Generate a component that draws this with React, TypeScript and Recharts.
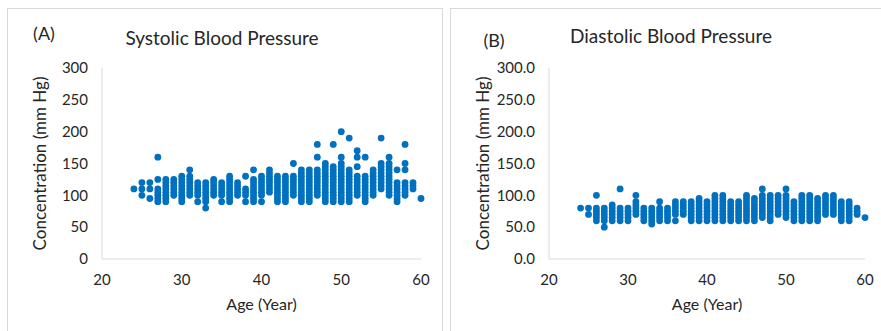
import { ScatterChart, Scatter, XAxis, YAxis } from "recharts";

const ages = [
  24, 25, 26, 27, 28, 29, 30, 31, 32, 33, 34, 35, 36, 37, 38, 39, 40, 41, 42,
  43, 44, 45, 46, 47, 48, 49, 50, 51, 52, 53, 54, 55, 56, 57, 58, 59, 60,
];

// systolic readings per age (mm Hg)
const systolic: number[][] = [
  [110],
  [100, 110, 120],
  [95, 110, 120],
  [90, 95, 100, 105, 110, 125, 160],
  [90, 95, 100, 105, 110, 115, 120, 125],
  [100, 105, 110, 115, 120, 125],
  [90, 95, 100, 105, 110, 115, 120, 125, 130],
  [100, 105, 110, 115, 120, 125, 130, 140],
  [90, 100, 105, 110, 115, 120],
  [80, 90, 95, 100, 105, 110, 115, 120],
  [100, 105, 110, 115, 120, 125],
  [90, 100, 105, 110, 115, 120],
  [90, 95, 100, 105, 110, 115, 120, 125, 130],
  [100, 105, 110, 115, 120],
  [90, 100, 105, 110, 130],
  [90, 95, 100, 105, 110, 115, 120, 125, 140],
  [90, 100, 105, 110, 115, 120, 125, 130],
  [105, 110, 115, 120, 125, 130, 135, 140],
  [90, 95, 100, 105, 110, 115, 120, 125, 130],
  [90, 95, 100, 105, 110, 115, 120, 125, 130],
  [100, 105, 110, 115, 120, 125, 130, 150],
  [90, 95, 100, 105, 110, 115, 120, 125, 130, 135, 140],
  [90, 95, 100, 105, 110, 115, 120, 125, 130, 135, 140],
  [100, 105, 110, 115, 120, 125, 130, 135, 140, 160, 180],
  [90, 95, 100, 105, 110, 115, 120, 125, 130, 135, 140, 145, 150],
  [90, 95, 100, 105, 110, 115, 120, 125, 130, 135, 140, 145, 180],
  [90, 95, 100, 105, 110, 115, 120, 125, 130, 135, 140, 145, 150, 160, 200],
  [90, 95, 100, 105, 110, 115, 120, 125, 130, 135, 140, 190],
  [100, 105, 110, 115, 120, 125, 130, 145, 160, 170],
  [90, 95, 100, 105, 110, 115, 120, 125, 130, 160],
  [100, 105, 110, 115, 120, 125, 130, 135, 140],
  [110, 115, 120, 125, 130, 135, 140, 145, 150, 190],
  [100, 105, 110, 115, 120, 125, 130, 135, 140, 145, 150, 160],
  [90, 95, 100, 105, 110, 115, 120, 140],
  [100, 105, 110, 115, 120, 140, 150, 180],
  [110, 115, 120],
  [95],
];

// diastolic readings per age (mm Hg)
const diastolic: number[][] = [
  [80],
  [70, 80],
  [60, 65, 70, 75, 80, 100],
  [50, 60, 65, 70, 75, 80],
  [60, 65, 70, 75, 80, 85],
  [60, 65, 70, 75, 80, 110],
  [60, 65, 70, 75, 80],
  [70, 75, 80, 85, 90, 100],
  [60, 65, 70, 75, 80],
  [55, 60, 65, 70, 75, 80],
  [60, 65, 70, 75, 80, 90],
  [60, 65, 70, 75, 80],
  [60, 70, 75, 80, 85, 90],
  [70, 75, 80, 85, 90],
  [60, 65, 70, 75, 80, 85, 90],
  [60, 65, 70, 75, 80, 85, 90, 95],
  [60, 65, 70, 75, 80, 85, 90],
  [60, 65, 70, 75, 80, 85, 90, 95, 100],
  [60, 65, 70, 75, 80, 85, 90, 95, 100],
  [60, 65, 70, 75, 80, 85, 90],
  [60, 65, 70, 75, 80, 85, 90],
  [60, 65, 70, 75, 80, 85, 90, 95, 100],
  [60, 65, 70, 75, 80, 85, 90, 95],
  [65, 70, 75, 80, 85, 90, 95, 100, 110],
  [60, 65, 70, 75, 80, 85, 90, 95, 100],
  [70, 75, 80, 85, 90, 95, 100],
  [65, 70, 75, 80, 85, 90, 95, 100, 110],
  [60, 65, 70, 75, 80, 85, 90],
  [60, 65, 70, 75, 80, 85, 90, 95, 100],
  [60, 65, 70, 75, 80, 85, 90, 95, 100],
  [60, 65, 70, 75, 80, 85, 90, 95],
  [70, 75, 80, 85, 90, 95, 100],
  [70, 75, 80, 85, 90, 95, 100],
  [60, 65, 70, 75, 80, 85, 90],
  [60, 65, 70, 75, 80, 85, 90],
  [70, 75, 80],
  [65],
];

const xTicks = [20, 30, 40, 50, 60];
const yTicks = [0, 50, 100, 150, 200, 250, 300];

const toPoints = (rows: number[][]) =>
  ages.flatMap((age, i) => rows[i].map((bp) => ({ age, bp })));

const font = "Lato, 'Open Sans', sans-serif";
const ink = "#262626";
const axisLine = "#d9d9d9";
const dotColor = "#0070c0";

const Dot = (p: any) => <circle cx={p.cx} cy={p.cy} r={3.4} fill={dotColor} />;

function Panel(props: {
  left: number;
  width: number;
  yAxisWidth: number;
  right: number;
  data: { age: number; bp: number }[];
  fmt: (v: number) => string;
  labelDx: number;
}) {
  const { left, width, yAxisWidth, right, data, fmt, labelDx } = props;
  return (
    <div style={{ position: "absolute", left, top: 0 }}>
      <ScatterChart
        width={width}
        height={331}
        margin={{ top: 68, right, bottom: 0, left: 0 }}
      >
        <XAxis
          type="number"
          dataKey="age"
          domain={[20, 60]}
          ticks={xTicks}
          height={72}
          tickLine={false}
          tickMargin={9}
          stroke={axisLine}
          tick={{ fill: ink, fontSize: 15, fontFamily: font }}
          label={{
            value: "Age (Year)",
            position: "center",
            dy: 9,
            fill: ink,
            fontSize: 16,
            fontFamily: font,
          }}
        />
        <YAxis
          type="number"
          dataKey="bp"
          domain={[0, 300]}
          ticks={yTicks}
          width={yAxisWidth}
          tickLine={false}
          tickMargin={8}
          tickFormatter={fmt}
          stroke={axisLine}
          tick={{ fill: ink, fontSize: 15, fontFamily: font }}
          label={{
            value: "Concentration (mm Hg)",
            angle: -90,
            position: "center",
            dx: labelDx,
            fill: ink,
            fontSize: 17,
            fontFamily: font,
          }}
        />
        <Scatter data={data} shape={Dot} isAnimationActive={false} />
      </ScatterChart>
    </div>
  );
}

const textStyle = (x: number, y: number, size: number): React.CSSProperties => ({
  position: "absolute",
  left: x,
  top: y,
  transform: "translate(-50%, -50%)",
  whiteSpace: "nowrap",
  fontFamily: font,
  fontSize: size,
  color: ink,
});

export default function App() {
  return (
    <div
      style={{
        position: "fixed",
        left: 0,
        top: 0,
        width: 881,
        height: 331,
        background: "#fff",
        overflow: "hidden",
      }}
    >
      <div
        style={{
          position: "absolute",
          left: 7,
          top: 8,
          width: 434,
          height: 340,
          border: `1px solid ${axisLine}`,
        }}
      />
      <div
        style={{
          position: "absolute",
          left: 450,
          top: 8,
          width: 440,
          height: 340,
          border: `1px solid ${axisLine}`,
        }}
      />
      <Panel
        left={0}
        width={440}
        yAxisWidth={102}
        right={19}
        data={toPoints(systolic)}
        fmt={(v) => String(v)}
        labelDx={-11}
      />
      <Panel
        left={440}
        width={441}
        yAxisWidth={109}
        right={16}
        data={toPoints(diastolic)}
        fmt={(v) => v.toFixed(1)}
        labelDx={-11.5}
      />
      <div style={textStyle(44, 33, 18)}>(A)</div>
      <div style={textStyle(222, 37, 19)}>Systolic Blood Pressure</div>
      <div style={textStyle(494, 40, 18)}>(B)</div>
      <div style={textStyle(671, 35, 19)}>Diastolic Blood Pressure</div>
    </div>
  );
}
